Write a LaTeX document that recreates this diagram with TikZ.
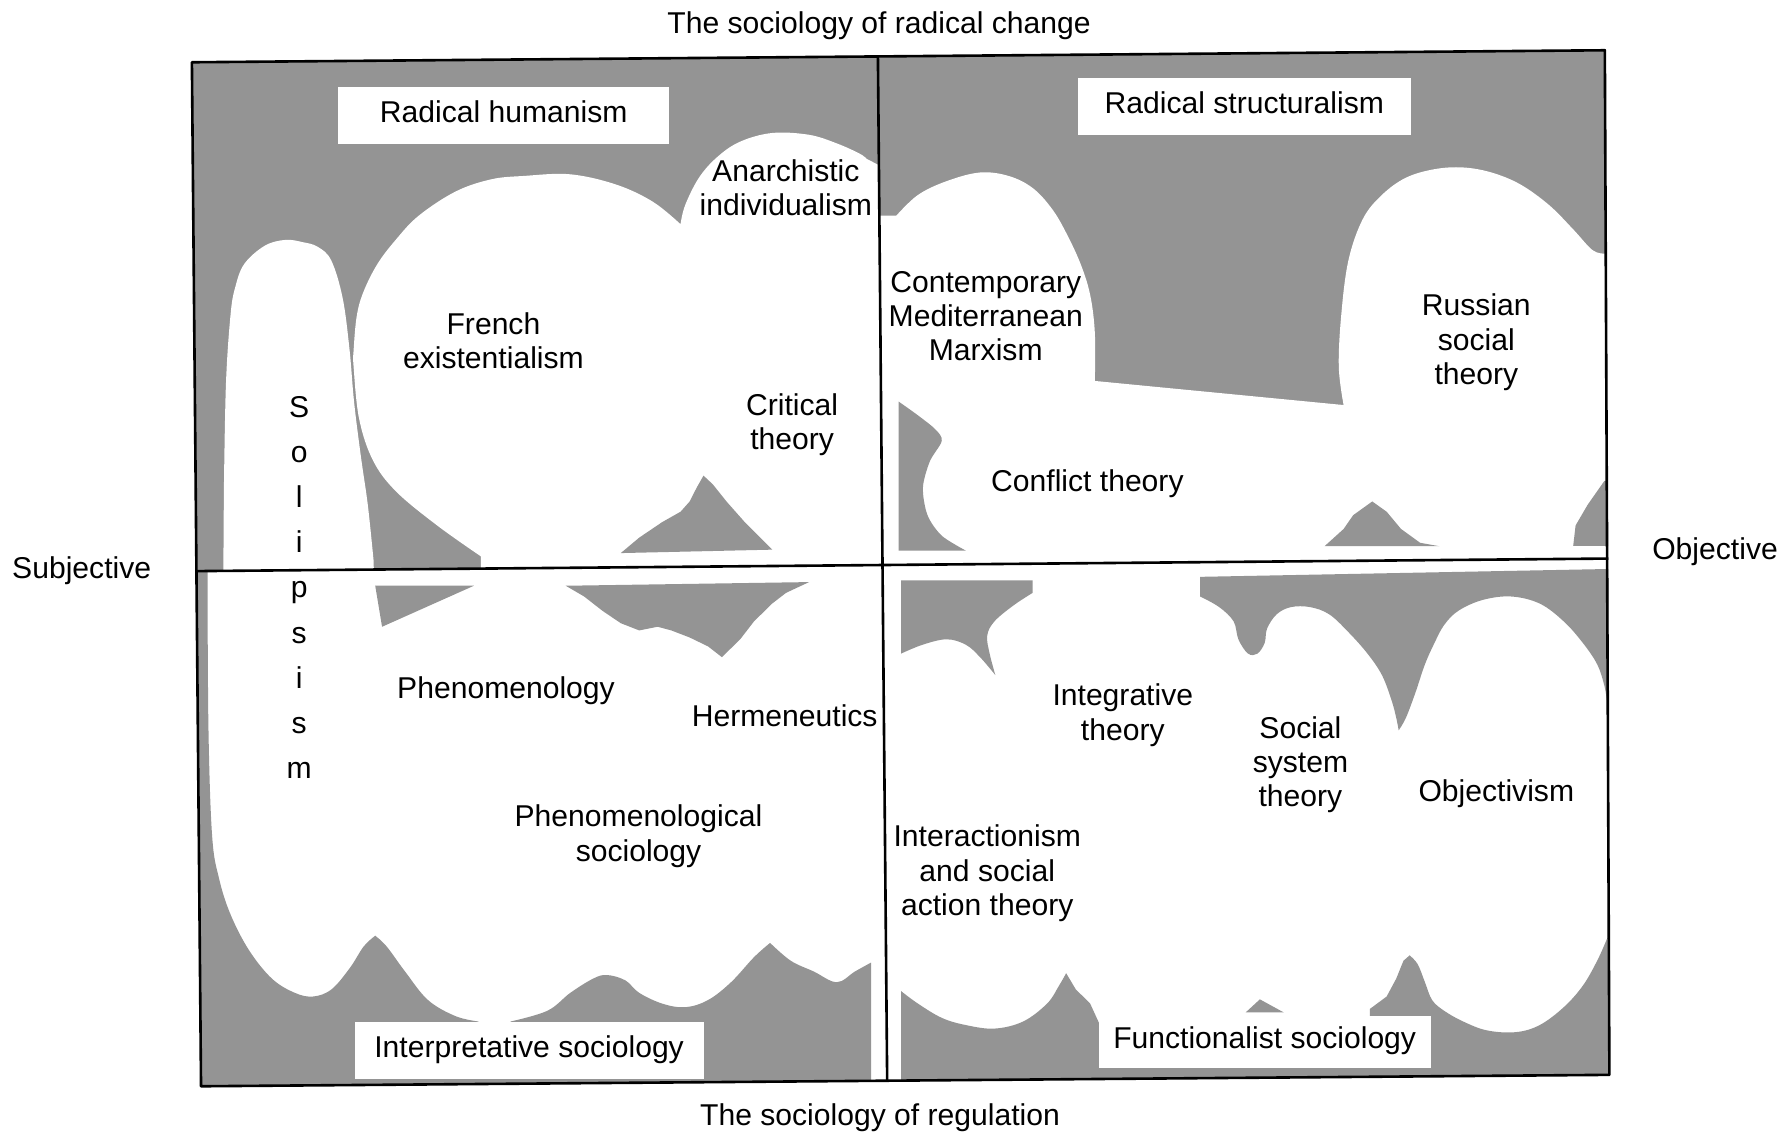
\documentclass[tikz,border=0pt]{standalone}
\usepackage{fontspec}
\setmainfont{Liberation Sans}
\definecolor{shadegray}{gray}{0.58}
\tikzset{
  greyfill/.style={fill=shadegray},
  whitefill/.style={fill=white},
  lbl/.style={font=\fontsize{15}{17.1}\selectfont, inner sep=0pt, align=center, anchor=base},
  boxlbl/.style={lbl, fill=white},
  frameline/.style={line width=1.3pt, line join=round},
  sm/.style={smooth, tension=0.6}
}
\begin{document}
\begin{tikzpicture}[x=0.02cm, y=-0.02cm]
\useasboundingbox (0,0) rectangle (1568,992);
% base grey
\fill[greyfill] (168,54.5) -- (1405,44) -- (1409,941) -- (176,951) -- cycle;

% ---------- top-left quadrant ----------
\begin{scope}
\clip (168,54.5) -- (768.6,49.4) -- (773,494.5) -- (172,500) -- cycle;
\fill[whitefill] (195.5,505) -- plot[sm] coordinates {(196,430) (197.8,336.5) (201.8,276) (205.8,252) (213.9,231) (232,215) (250,210) (265,212) (278,216) (290,228) (300,261) (306,306) (310,352) (316,400) (322,442) (327,490)} -- (327.5,505) -- cycle;
\fill[whitefill] (421,505) -- plot[sm] coordinates {(420.9,487) (382.7,460) (346.5,430) (326.4,402.8) (314.4,366.6) (309.6,321.4) (309.6,306.4) (312.4,276.2) (318.4,255) (330.5,231) (346.5,209.9) (366.6,188.8) (398.8,167.7) (430,157) (459,154) (499.3,152.6) (539.5,161.6) (571.7,176.7) (595.8,196.3)} -- plot[sm] coordinates {(595.8,196.3) (599.8,179.7) (611.9,155.6) (627.9,137.5) (648,124) (676.2,116.4) (708.3,118) (732.5,125.5) (752.6,134.5) (758.6,139)} -- (780,150) -- (780,505) -- cycle;
\fill[greyfill] (543.5,484.2) -- (559.6,470.7) -- (579.7,457.1) -- (595.8,448) -- (603.8,439) -- (609.9,427) -- (615.9,416.4) -- (624,424) -- (636,439) -- (652,457.1) -- (664.1,469.2) -- (676.2,481.2) -- cycle;
\end{scope}

% ---------- top-right quadrant ----------
\begin{scope}
\clip (768.6,49.4) -- (1405,44) -- (1408,489) -- (773,494.5) -- cycle;
\fill[whitefill] (765,188.8) -- (784.7,188.8) -- plot[sm] coordinates {(784.7,188.8) (803.6,170.7) (828.7,158.6) (858,151) (883.2,154.1) (904.1,164.6) (920.9,182.7) (933.4,203.8) (946,231) (954.4,258.1) (958.5,291.3) (958.5,333.5)} -- (1176.3,354.6) -- plot[sm] coordinates {(1176.3,354.6) (1172.1,321.4) (1174.2,276.2) (1180.5,228) (1193.1,191.8) (1209.8,170.7) (1230.8,155.6) (1255.9,148.1) (1281,146.6) (1306.1,151.1) (1331.3,161.6) (1356.4,179.7) (1377.3,200.8) (1394.1,218.9) (1404.6,222)} -- (1415,222) -- (1415,500) -- (765,500) -- cycle;
\fill[greyfill] (786.8,351.6) -- plot[smooth, tension=0.5] coordinates {(786.8,351.6) (803.6,363.6) (819,376) (824.5,386) (814,404) (808,427) (812,451) (824.5,469) (845.5,482)} -- (786.8,482) -- cycle;
\fill[greyfill] (1159.6,478.2) -- (1176.3,463.1) -- (1184.7,451) -- (1201.4,439) -- (1214,448) -- (1226.6,463.1) -- (1243.3,475.2) -- (1260.1,478.2) -- cycle;
\fill[greyfill] (1415,421) -- (1404.6,421) -- (1389.9,442) -- (1379.4,460) -- (1377.3,478) -- (1415,478) -- cycle;
\end{scope}

% ---------- bottom-right quadrant ----------
\begin{scope}
\clip (773,494.5) -- (1408,489) -- (1409,941) -- (776.7,946.1) -- cycle;
\fill[whitefill] (760,480) rectangle (1420,960);
\fill[greyfill] (788.9,508.1) -- (904.1,508.1) -- (904.1,519) -- plot[sm] coordinates {(904.1,519) (887.3,530) (870.6,544) (864.3,556.5) (866.4,572.2) (871.4,591)} -- plot[sm] coordinates {(871.4,591) (858,575.3) (845.5,564.4) (828.7,559.7) (807.8,564.4) (788.9,572.2)} -- cycle;
\fill[greyfill] (1050.7,505) -- (1050.7,522.2) -- plot[sm] coordinates {(1050.7,522.2) (1067.4,531.5) (1080,544) (1084.2,559.7) (1092.6,572.2) (1100.9,572.2) (1107.2,562.8) (1109.3,550.3) (1117.7,537.8) (1130.2,531.5) (1147,531.5) (1163.7,537.8) (1180.5,553.4) (1197.2,572.2) (1209.8,590.9) (1218.2,612.8) (1222.4,628.5) (1224.5,639.4)} -- plot[sm] coordinates {(1224.5,639.4) (1230.8,628.5) (1239.1,606.6) (1247.5,581.6) (1255.9,562.8) (1264.3,547.2) (1276.8,534.7) (1297.8,525.3) (1322.9,522.2) (1348,528.4) (1369,544) (1385.7,562.8) (1398.3,581.6) (1404.6,600.3) (1406.7,612.8)} -- (1415,615) -- (1415,498) -- cycle;
\fill[greyfill] (788.9,960) -- (788.9,867.7) -- plot[sm] coordinates {(788.9,867.7) (803.6,878.6) (824.5,891.1) (845.5,897.4) (870.6,900.5) (895.7,894.3) (916.7,878.6) (927.1,863) (933.4,852)} -- (941.8,866.1) -- (954.4,878.6) -- (961.9,895) -- (1199.3,895) -- (1199.3,883.3) -- (1214,872.4) -- (1222.4,856.7) -- (1228.7,841.1) -- (1234.1,836.4) -- plot[sm] coordinates {(1234.1,836.4) (1241.2,844.2) (1247.5,859.9) (1253.8,875.5) (1264.3,884.9) (1281,894.3) (1301.9,902.1) (1327.1,903.6) (1348,897.4) (1369,881.8) (1385.7,863) (1398.3,841.1) (1406.7,822.3)} -- (1415,815) -- (1415,960) -- cycle;
\fill[greyfill] (1090.5,886.4) -- (1103,874.9) -- (1124,886.4) -- cycle;
\end{scope}

% ---------- bottom-left quadrant ----------
\begin{scope}
\clip (172,500) -- (773,494.5) -- (776.7,946.1) -- (176,951) -- cycle;
\fill[whitefill] (160,480) rectangle (790,960);
\fill[greyfill] (165,495) -- (181.7,495) -- plot[sm] coordinates {(181.7,505) (182.5,637.9) (185.7,731.7) (191.8,769.2) (201.8,800.5) (217.9,831.7) (238,856.7) (258.1,869.2) (274.2,872.4) (290.3,866.1) (306.3,847.4) (318.4,828.6) (328.5,819.2)} -- plot[sm] coordinates {(328.5,819.2) (338.5,828.6) (354.6,850.5) (374.7,875.5) (398.8,889.6) (418.9,894.3)} -- (418.9,900) -- (447,900) -- (447,894.3) -- plot[sm] coordinates {(447,894.3) (479.2,884.9) (499.3,869.2) (519.4,856.7) (531.5,853.6) (547.5,858.3) (559.6,869.2) (579.7,878.6) (599.8,881.8) (619.9,875.5) (640,859.9) (660.1,838) (674.2,825.5)} -- plot[sm] coordinates {(674.2,825.5) (692.3,841.1) (712.4,850.5) (732.5,859.9) (748.5,850.5) (762.6,842.7)} -- (762.6,960) -- (165,960) -- cycle;
\fill[greyfill] (328.5,512.8) -- (414.9,512.8) -- (334.5,548.7) -- cycle;
\fill[greyfill] (495.3,512.8) -- (708.3,509.6) -- (688.2,519) -- (676,528.4) -- (660.1,544) -- (648,559.7) -- (632,575.3) -- (619.9,565.9) -- (603.8,558.1) -- (587.7,551.9) -- (575.7,548.7) -- (559.6,551.9) -- (543.5,545.6) -- (527.4,534.7) -- (511.4,522.2) -- cycle;
\end{scope}

% ---------- frame and dividers ----------
\draw[frameline] (168,54.5) -- (1405,44) -- (1409,941) -- (176,951) -- cycle;
\draw[frameline] (768.6,49.4) -- (776.7,946.1);
\draw[frameline] (172,500) -- (1408,489);

% ---------- labels (anchor = baseline of last line) ----------
\node[lbl] (topl) at (769.6,29) {The sociology of radical change};
\node[lbl] (botl) at (770.5,985) {The sociology of regulation};
\node[lbl] (subj) at (71.5,506.3) {Subjective};
\node[lbl] (obj) at (1501.5,489.7) {Objective};
\node[boxlbl, minimum width=5.788cm, text height=17.64pt, text depth=10.81pt] (rh) at (441,107) {Radical humanism};
\node[boxlbl, minimum width=5.82cm, text height=17.8pt, text depth=10.47pt] (rs) at (1089.4,99.5) {Radical structuralism};
\node[boxlbl, minimum width=6.11cm, text height=17.75pt, text depth=10.7pt] (is) at (463.2,925.5) {Interpretative sociology};
\node[boxlbl, minimum width=5.812cm, text height=16pt, text depth=9.84pt] (fs) at (1107.2,917.7) {Functionalist sociology};
\node[lbl] (anarch) at (688,188.6) {Anarchistic\\individualism};
\node[lbl] (french) at (432,322.9) {French\\existentialism};
\node[lbl] (crit) at (693.5,393.7) {Critical\\theory};
\node[lbl, font=\fontsize{15}{22.5}\selectfont] (solip) at (262,681.6) {S\\o\\l\\i\\p\\s\\i\\s\\m};
\node[lbl] (cmm) at (863,316) {Contemporary\\Mediterranean\\Marxism};
\node[lbl] (russ) at (1292.5,336.5) {Russian\\social\\theory};
\node[lbl] (confl) at (952,430) {Conflict theory};
\node[lbl] (phen) at (443,611.3) {Phenomenology};
\node[lbl] (herm) at (687,636.3) {Hermeneutics};
\node[lbl] (phsoc) at (559,753.8) {Phenomenological\\sociology};
\node[lbl] (integ) at (983,648) {Integrative\\theory};
\node[lbl] (sst) at (1138.5,706.5) {Social\\system\\theory};
\node[lbl] (objv) at (1310,702) {Objectivism};
\node[lbl] (inter) at (864.3,801.5) {Interactionism\\and social\\action theory};
\end{tikzpicture}
\end{document}
